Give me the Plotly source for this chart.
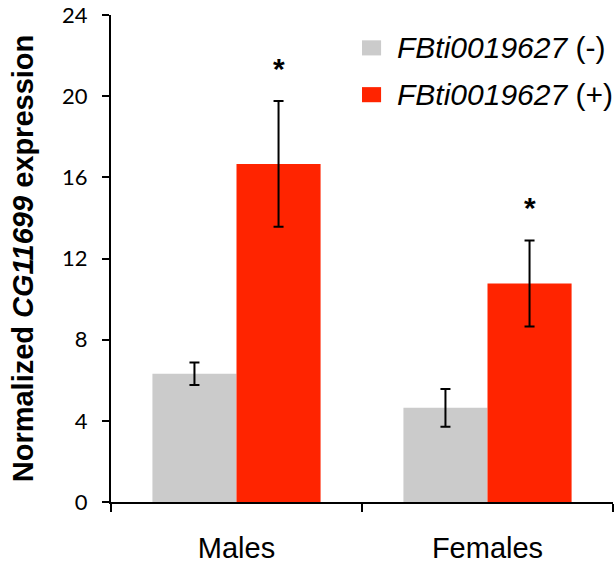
import plotly.graph_objects as go

categories = ["Males", "Females"]
minus_vals = [6.32, 4.64]
minus_err = [0.55, 0.93]
plus_vals = [16.66, 10.77]
plus_err = [3.1, 2.12]
series_names = ["<i>FBti0019627</i> (-)", "<i>FBti0019627</i> (+)"]
series_colors = ["#cbcbcb", "#ff2400"]
y_ticks = [0, 4, 8, 12, 16, 20, 24]

fig = go.Figure()
fig.add_trace(go.Bar(
    x=categories, y=minus_vals, name=series_names[0],
    marker=dict(color=series_colors[0], line=dict(width=0)),
    error_y=dict(type="data", array=minus_err, color="black", thickness=2, width=5),
))
fig.add_trace(go.Bar(
    x=categories, y=plus_vals, name=series_names[1],
    marker=dict(color=series_colors[1], line=dict(width=0)),
    error_y=dict(type="data", array=plus_err, color="black", thickness=2, width=5),
))

for c, v, e in zip(categories, plus_vals, plus_err):
    fig.add_annotation(x=c, y=v + e, text="<b>*</b>", showarrow=False, xshift=42,
                       yanchor="middle", yshift=33,
                       font=dict(family="Liberation Sans", size=30, color="black"))

# custom legend (larger swatches than plotly's built-in legend)
legend_rows_y = [0.9325, 0.8364]
for name, color, yc in zip(series_names, series_colors, legend_rows_y):
    fig.add_shape(type="rect", xref="paper", yref="paper",
                  x0=0.5, x1=0.538, y0=yc - 0.0155, y1=yc + 0.0155,
                  fillcolor=color, line=dict(width=0))
    fig.add_annotation(xref="paper", yref="paper", x=0.566, y=yc, text=name,
                       showarrow=False, xanchor="left", yanchor="middle",
                       font=dict(family="Liberation Sans", size=30, color="black"))

fig.update_layout(
    width=614, height=565,
    margin=dict(l=111, r=1, t=15, b=60),
    paper_bgcolor="white", plot_bgcolor="white",
    barmode="group", bargap=0.33, bargroupgap=0,
    font=dict(family="Liberation Sans", color="black"),
    showlegend=False,
)
fig.update_xaxes(
    showline=True, linecolor="black", linewidth=2,
    ticks="outside", tickson="boundaries", ticklen=8, tickwidth=2, tickcolor="black",
    tickfont=dict(size=29, family="Liberation Sans"), ticklabelstandoff=19,
)
fig.update_yaxes(
    range=[0, 24], tickvals=y_ticks, showline=True, linecolor="black", linewidth=2,
    ticks="outside", ticklen=7, tickwidth=2, tickcolor="black", showgrid=False,
    zeroline=False, ticklabelstandoff=10,
    tickfont=dict(size=22, family="Lato"),
    title=dict(text="<b>Normalized <i>CG11699</i> expression</b>",
               font=dict(size=29, family="Liberation Sans"), standoff=20),
)
fig.write_html("out.html")
